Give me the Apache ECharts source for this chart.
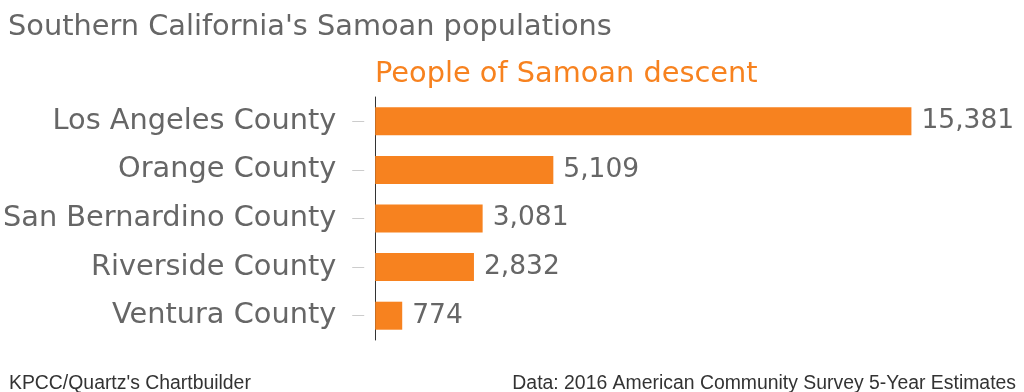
<!DOCTYPE html>
<html><head><meta charset="utf-8">
<script src="https://cdn.jsdelivr.net/npm/echarts@6/dist/echarts.min.js"></script>
<style>html,body{margin:0;padding:0;background:#fff}#c{width:1024px;height:392px}</style>
</head><body><div id="c"></div>
<script>
const categories = ["Los Angeles County","Orange County","San Bernardino County","Riverside County","Ventura County"];
const values = [15381, 5109, 3081, 2832, 774];
const titleText = "Southern California's Samoan populations";
const seriesName = "People of Samoan descent";
const sourceLeft = "KPCC/Quartz's Chartbuilder";
const sourceRight = "Data: 2016 American Community Survey 5-Year Estimates";

const font = "'DejaVu Sans', sans-serif";
const font2 = "'Liberation Sans', Arial, sans-serif";
const chart = echarts.init(document.getElementById('c'), null, {renderer:'canvas'});
chart.setOption({
  animation:false,
  textStyle:{fontFamily:font},
  title:[
    {text:titleText,left:3,top:8,textStyle:{fontFamily:font,fontSize:28.8,fontWeight:'normal',color:'#666'}},
    {text:seriesName,left:370,top:55,textStyle:{fontFamily:font,fontSize:28.8,fontWeight:'normal',color:'#f7821f'}},
    {text:sourceLeft,left:4,top:369,textStyle:{fontFamily:font2,fontSize:19.4,fontWeight:'normal',color:'#333'}},
    {text:sourceRight,right:3,top:369,textStyle:{fontFamily:font2,fontSize:19.4,fontWeight:'normal',color:'#333'}}
  ],
  grid:{left:374,top:97,width:559,height:243,containLabel:false},
  xAxis:{type:'value',min:0,max:16000,show:false},
  yAxis:[
    {type:'category',data:categories,inverse:true,
     axisLine:{show:true,lineStyle:{color:'#333',width:1}},
     axisTick:{show:false},
     axisLabel:{fontFamily:font,fontSize:28.8,color:'#666',margin:39},
     splitLine:{show:false}},
    {type:'category',data:categories,inverse:true,position:'left',offset:11,
     axisLine:{show:false},
     axisTick:{show:true,alignWithLabel:true,length:12,lineStyle:{color:'#ccc',width:1}},
     axisLabel:{show:false},splitLine:{show:false}}
  ],
  series:[{type:'bar',data:values,barWidth:28,yAxisIndex:0,
    itemStyle:{color:'#f7821f'},
    label:{show:true,position:'right',distance:10,fontFamily:font,fontSize:26.5,color:'#666',
      formatter:p=>p.value.toLocaleString('en-US')}}]
});
</script></body></html>
